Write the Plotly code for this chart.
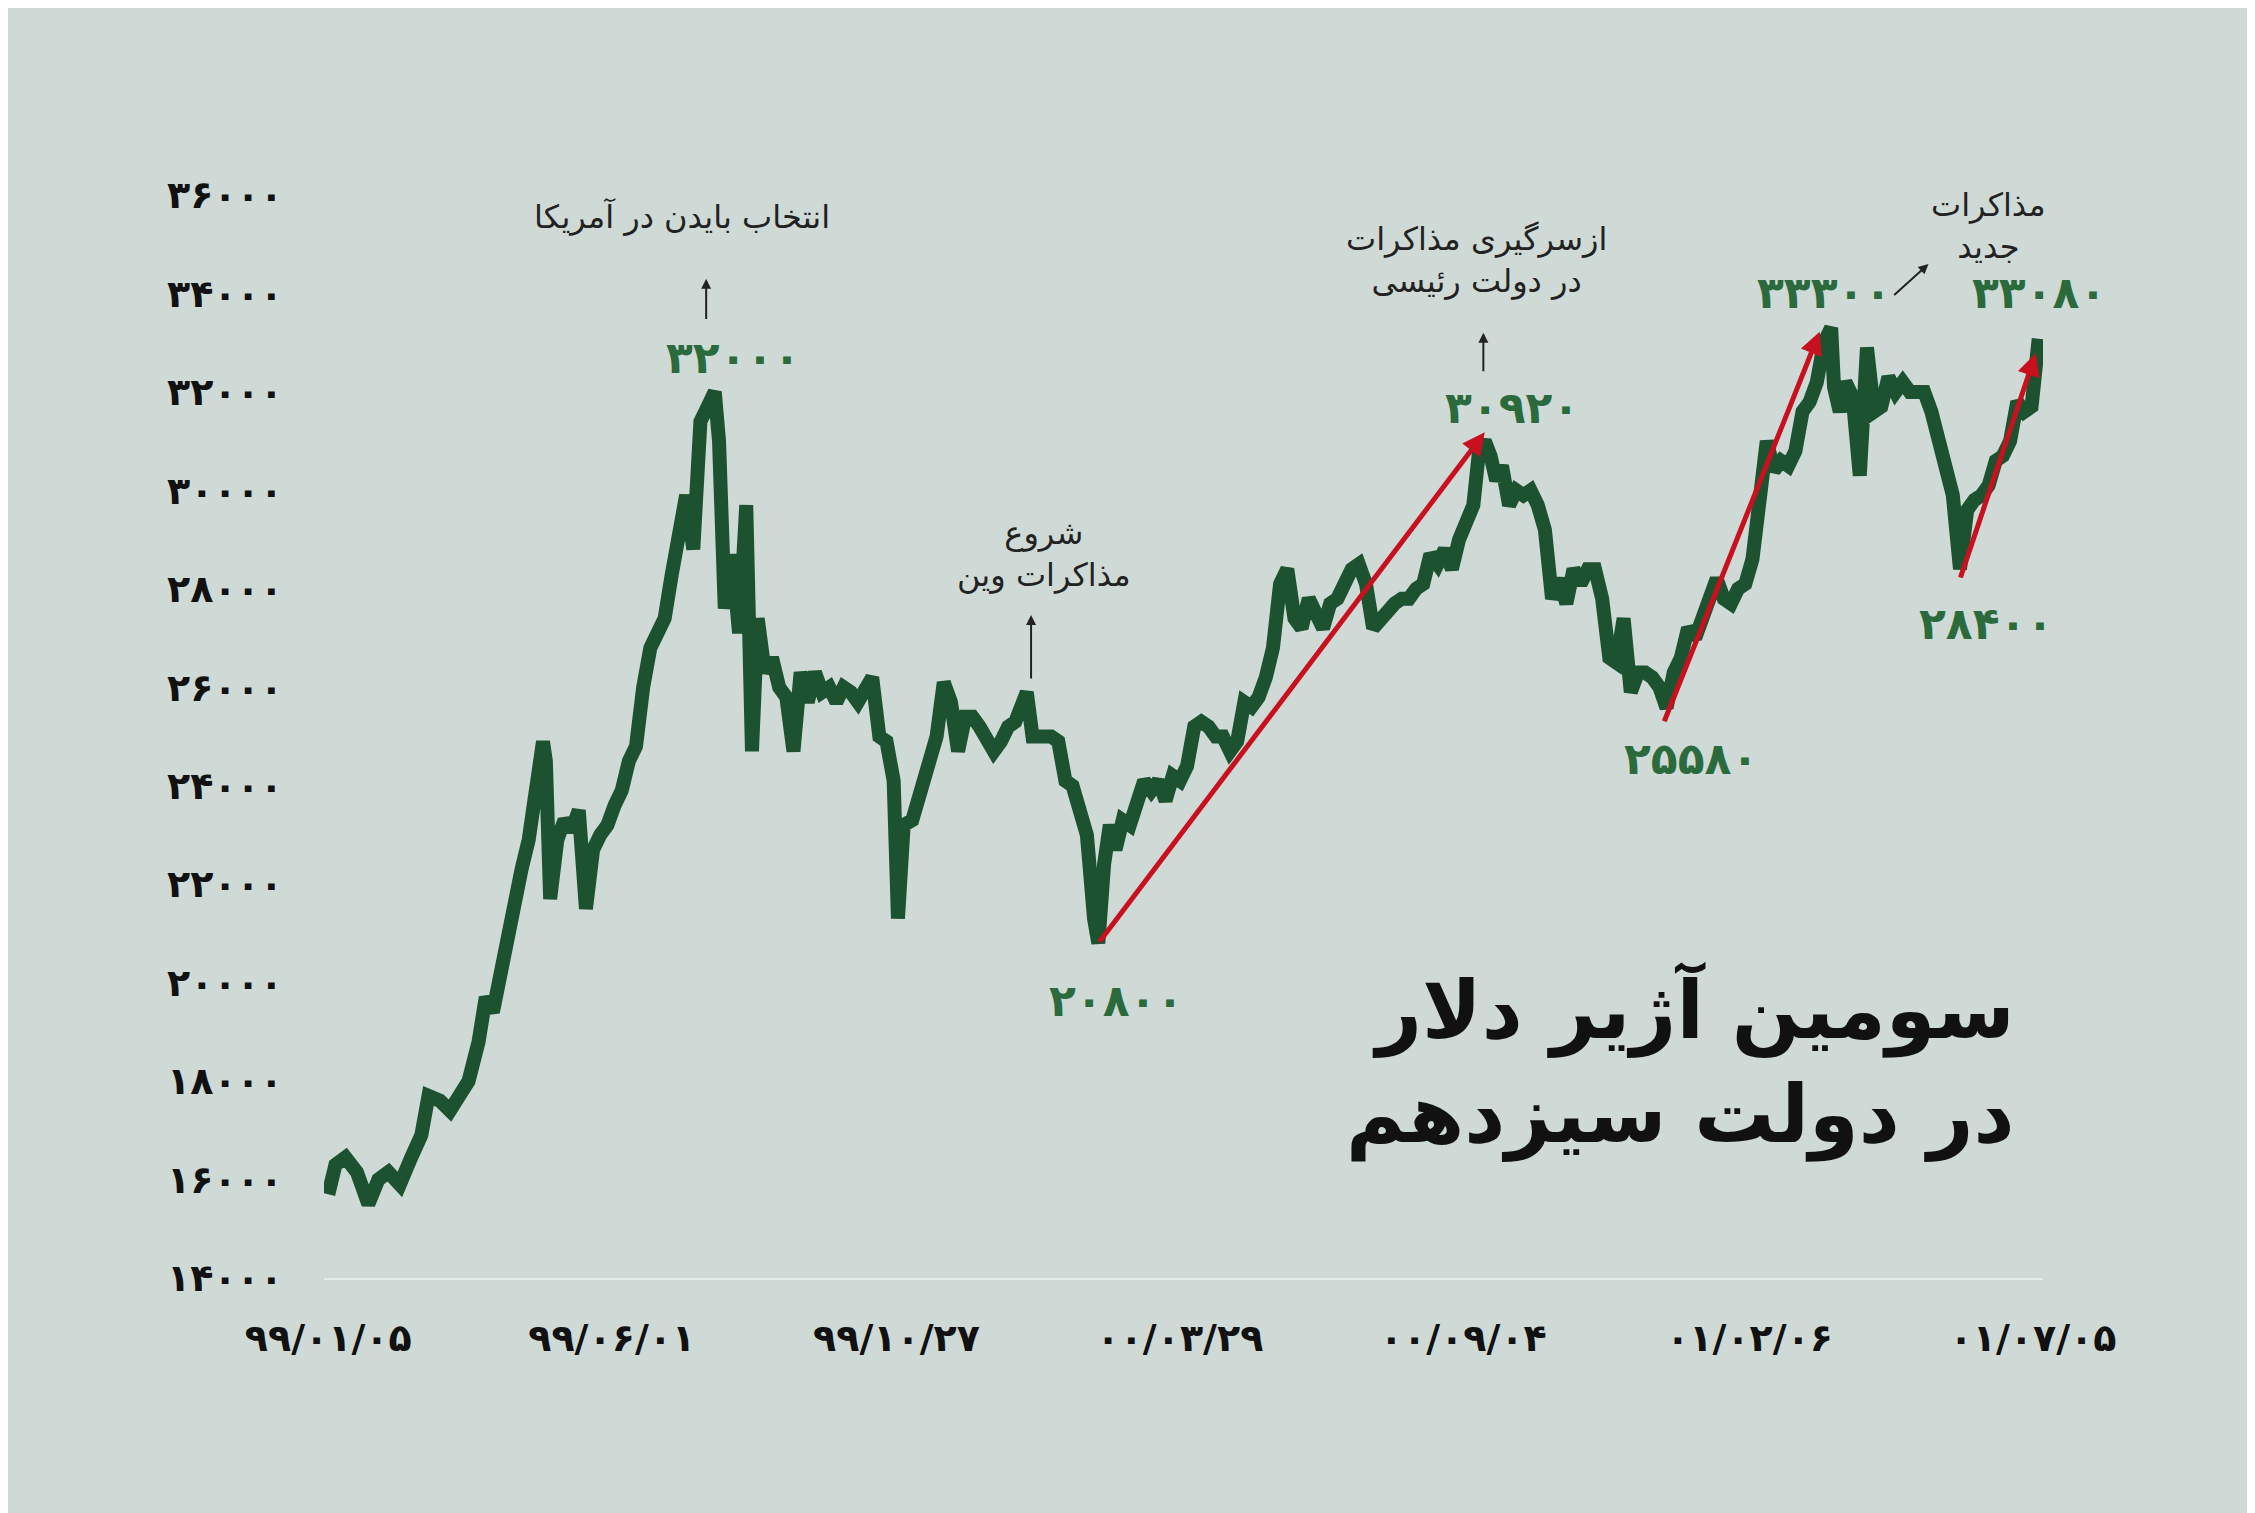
import plotly.graph_objects as go

x = [0,5,12,20,28,35,42,50,58,65,70,78,85,92,98,105,110,115,120,125,130,135,140,145,150,152,155,160,165,170,175,180,185,190,195,200,205,210,215,220,225,230,235,240,245,250,255,260,265,270,273,277,282,287,292,296,300,305,310,315,320,325,330,335,340,345,350,355,360,365,370,375,380,385,390,395,398,402,408,412,416,420,425,430,435,440,445,450,455,460,465,470,475,480,485,488,492,498,505,510,515,520,525,530,535,538,542,546,550,555,560,565,570,575,580,585,590,595,600,605,610,615,620,625,630,635,640,645,650,655,660,665,670,675,680,685,690,695,700,705,710,715,720,725,730,735,740,745,750,755,760,765,770,775,780,785,790,795,800,804,808,812,816,820,825,830,835,840,845,850,855,860,865,870,875,880,885,890,895,900,905,910,915,920,925,930,935,940,945,950,955,960,965,970,975,980,985,990,995,1000,1005,1010,1015,1020,1025,1030,1035,1040,1045,1050,1052,1056,1060,1065,1070,1075,1080,1085,1090,1095,1100,1105,1110,1115,1120,1125,1130,1135,1140,1145,1150,1155,1160,1165,1170,1175,1180,1185,1190,1195]
price = [15700,16300,16450,16150,15500,16000,16150,15900,16450,16900,17700,17600,17400,17700,18000,18800,19700,19400,20200,20700,21700,22300,22900,23900,24900,24500,21700,22900,23300,23100,23500,21500,22700,23000,23200,23600,23900,24500,24800,26000,26800,27100,27400,28300,29300,29900,28800,31400,31700,32000,31000,27600,28700,27100,29700,24700,27400,26300,26600,26000,25800,24700,26300,25700,26300,25900,26000,25700,26000,25900,25700,26000,26200,25000,24900,24100,21300,23200,23300,23700,24200,24500,25000,26100,25700,24700,25400,25400,25200,25000,24700,24900,25200,25300,25600,25900,25000,25000,25000,24900,24100,24000,23600,23000,21300,20800,22400,23200,22700,23300,23200,23600,24100,23900,24100,23700,24200,24100,24400,25200,25300,25200,25000,25000,24700,24900,25700,25600,25800,26200,26800,28100,28400,27400,27200,27800,27400,27200,27700,27800,28100,28400,28500,28100,27200,27400,27500,27700,27800,27800,28000,28100,28700,28500,28800,28400,29000,29300,29700,30800,31000,30700,30200,30500,29700,30000,29900,30000,29700,29200,27800,28200,27700,28400,28100,28400,28400,27800,26600,26500,27400,25900,26300,26300,26200,26000,25580,26300,26600,27200,27000,27400,27800,28200,27800,27700,28000,28100,28600,29900,31000,30400,30600,30500,30800,31600,31800,32200,33000,33300,32100,31600,32200,31900,30300,32900,31600,31700,32300,32000,32200,32000,32000,32000,31600,31000,30500,29900,28400,29600,29800,29900,30100,30600,30700,31000,31800,31600,31700,33080]

ytick_vals = [14000,16000,18000,20000,22000,24000,26000,28000,30000,32000,34000,36000]
ytick_text = ["۱۴۰۰۰","۱۶۰۰۰","۱۸۰۰۰","۲۰۰۰۰","۲۲۰۰۰","۲۴۰۰۰","۲۶۰۰۰","۲۸۰۰۰","۳۰۰۰۰","۳۲۰۰۰","۳۴۰۰۰","۳۶۰۰۰"]
xtick_vals = [0,198,397,595,793,993,1191]
xtick_text = ["۹۹/۰۱/۰۵","۹۹/۰۶/۰۱","۹۹/۱۰/۲۷","۰۰/۰۳/۲۹","۰۰/۰۹/۰۴","۰۱/۰۲/۰۶","۰۱/۰۷/۰۵"]

value_labels = [(283,32700,"۳۲۰۰۰"),(550,19640,"۲۰۸۰۰"),(827,31675,"۳۰۹۲۰"),(952,24550,"۲۵۵۸۰"),
                (1045,34010,"۳۳۳۰۰"),(1195,34010,"۳۳۰۸۰"),(1158,27290,"۲۸۴۰۰")]
notes = [(247,35560,"انتخاب بایدن در آمریکا"),(500,28700,"شروع<br>مذاکرات وین"),
         (802,34685,"ازسرگیری مذاکرات<br>در دولت رئیسی")]
top_note = (1160, 1.01, "مذاکرات<br>جدید")
black_arrows = [(264,33450,264,34300),(491,26150,491,27470),(807,32390,807,33200),(1093,33940,1118,34600)]
red_arrows = [(538,20800,808,31180),(933,25280,1042,33220),(1140,28200,1193,32785)]

fig = go.Figure()
fig.add_trace(go.Scatter(x=x, y=price, mode="lines",
                         line=dict(color="#1d5230", width=14), hoverinfo="skip"))
font = "DejaVu Sans"
ann = []
for ax_, ay_, t in value_labels:
    ann.append(dict(x=ax_, y=ay_, text="<b>"+t+"</b>", showarrow=False,
                    font=dict(family=font, size=44, color="#2b6a3c")))
for ax_, ay_, t in notes:
    ann.append(dict(x=ax_, y=ay_, text=t, showarrow=False,
                    font=dict(family=font, size=32, color="#222"), align="center"))
ann.append(dict(x=top_note[0], xref="x", y=top_note[1], yref="paper", text=top_note[2], showarrow=False,
                font=dict(family=font, size=32, color="#222"), align="center"))
for x0, y0, x1, y1 in black_arrows:
    ann.append(dict(x=x1, y=y1, ax=x0, ay=y0, axref="x", ayref="y", text="", showarrow=True,
                    arrowhead=2, arrowsize=1, arrowwidth=2, arrowcolor="#222"))
for x0, y0, x1, y1 in red_arrows:
    ann.append(dict(x=x1, y=y1, ax=x0, ay=y0, axref="x", ayref="y", text="", showarrow=True,
                    arrowhead=2, arrowsize=0.9, arrowwidth=5, arrowcolor="#c8101e"))
ann.append(dict(xref="paper", yref="paper", x=0.985, y=0.2, xanchor="right", yanchor="middle",
                text="<b>سومین آژیر دلار<br>در دولت سیزدهم</b>", showarrow=False, align="right",
                font=dict(family=font, size=80, color="#111")))

fig.update_layout(
    width=2255, height=1513, paper_bgcolor="#cfdad6", plot_bgcolor="#cfdad6",
    margin=dict(l=316, r=220, t=187, b=243), showlegend=False, annotations=ann,
    xaxis=dict(range=[-3, 1198], tickvals=xtick_vals, ticktext=xtick_text, showgrid=False,
               zeroline=False, showline=True, linecolor="#e4ebe8", linewidth=2,
               tickfont=dict(family=font, size=38, color="#111", weight="bold"), ticks="", ticklabelstandoff=25),
    yaxis=dict(range=[14000, 36000], tickvals=ytick_vals, ticktext=ytick_text, showgrid=False,
               zeroline=False, tickfont=dict(family=font, size=38, color="#111", weight="bold"),
               ticks="", ticklabelstandoff=40),
)
fig.write_html("out.html")
